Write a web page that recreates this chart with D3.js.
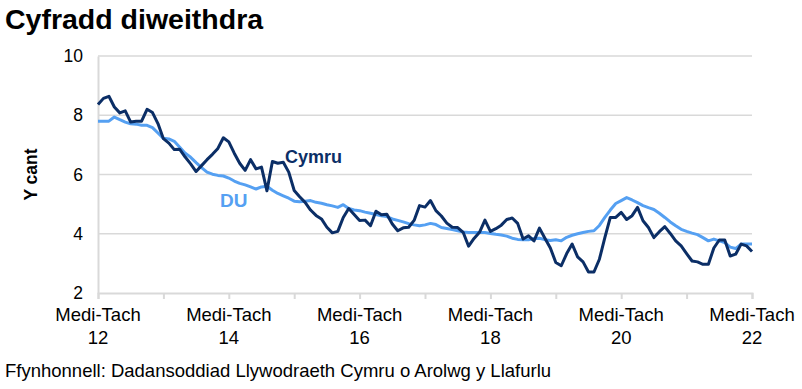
<!DOCTYPE html>
<html>
<head>
<meta charset="utf-8">
<script src="https://cdn.jsdelivr.net/npm/d3@7"></script>
<style>
  html, body { margin: 0; padding: 0; background: #fff; }
  svg { display: block; font-family: "Liberation Sans", Arial, sans-serif; }
</style>
</head>
<body>
<svg id="chart" width="802" height="389"></svg>
<script>
// Month index 0 = Medi-Tach 2012 ... 120 = Medi-Tach 2022
const cymru = [8.36,8.57,8.64,8.28,8.08,8.15,7.77,7.80,7.80,8.20,8.09,7.72,7.21,7.06,6.84,6.85,6.59,6.36,6.10,6.30,
  6.50,6.68,6.88,7.24,7.10,6.72,6.38,6.14,6.50,6.19,6.25,5.45,6.44,6.38,6.41,6.08,5.46,5.25,5.06,4.80,
  4.62,4.50,4.22,4.03,4.08,4.55,4.85,4.65,4.45,4.46,4.27,4.76,4.64,4.66,4.33,4.10,4.20,4.22,4.45,4.95,
  4.90,5.12,4.78,4.60,4.36,4.22,4.21,4.05,3.58,3.84,4.05,4.46,4.08,4.17,4.29,4.48,4.53,4.35,3.82,3.93,
  3.76,4.19,3.85,3.52,3.03,2.92,3.33,3.65,3.22,3.05,2.71,2.71,3.14,3.87,4.55,4.55,4.72,4.48,4.61,4.89,
  4.44,4.21,3.87,4.07,4.24,4.01,3.76,3.59,3.33,3.08,3.05,2.97,2.97,3.52,3.79,3.79,3.25,3.31,3.65,3.59,3.40];
const du = [7.80,7.80,7.80,7.94,7.85,7.77,7.71,7.70,7.66,7.66,7.58,7.40,7.22,7.20,7.12,6.92,6.72,6.58,6.40,6.23,
  6.08,6.01,5.97,5.95,5.88,5.78,5.70,5.65,5.58,5.51,5.58,5.60,5.47,5.36,5.28,5.20,5.10,5.08,5.10,5.12,
  5.06,5.03,4.98,4.94,4.89,4.98,4.85,4.80,4.78,4.73,4.69,4.65,4.61,4.58,4.50,4.45,4.40,4.34,4.30,4.27,
  4.30,4.35,4.31,4.21,4.18,4.14,4.10,4.06,4.04,4.04,4.04,4.04,4.01,3.98,3.96,3.92,3.85,3.81,3.80,3.80,
  3.84,3.85,3.80,3.77,3.80,3.76,3.88,3.95,4.00,4.04,4.08,4.10,4.28,4.55,4.80,5.02,5.12,5.22,5.14,5.05,
  4.95,4.88,4.82,4.69,4.55,4.40,4.27,4.15,4.08,4.02,3.97,3.87,3.76,3.82,3.76,3.70,3.55,3.50,3.65,3.65,3.65];
const xTickMonths = [0,12,24,36,48,60,72,84,96,108,120];
const xLabelMonths = [0,24,48,72,96,120];
const xLabels = ["Medi-Tach|12","Medi-Tach|14","Medi-Tach|16","Medi-Tach|18","Medi-Tach|20","Medi-Tach|22"];
const yTicks = [2,4,6,8,10];

const svg = d3.select("#chart");
const x = d3.scaleLinear().domain([0,120]).range([98,752]);
const y = d3.scaleLinear().domain([2,10]).range([293,56]);
const grid = "#d9d9d9";

// Title
svg.append("text").attr("x",5).attr("y",29).attr("font-size",28.5).attr("font-weight","bold")
  .attr("fill","#000").text("Cyfradd diweithdra");

// gridlines
svg.append("g").selectAll("line").data(yTicks.filter(d=>d>2)).join("line")
  .attr("x1",x(0)).attr("x2",x(120)).attr("y1",d=>y(d)).attr("y2",d=>y(d))
  .attr("stroke",grid).attr("stroke-width",1.5);

// y axis
const yAxis = svg.append("g").attr("transform",`translate(${x(0)},0)`)
  .call(d3.axisLeft(y).tickValues(yTicks).tickSize(0).tickPadding(15));
yAxis.select(".domain").attr("stroke",grid).attr("stroke-width",2);
yAxis.selectAll("text").attr("font-size",17.5).attr("fill","#000").attr("font-family","Liberation Sans, Arial, sans-serif");

// x axis
const xAxis = svg.append("g").attr("transform",`translate(0,${y(2)})`)
  .call(d3.axisBottom(x).tickValues(xTickMonths).tickSize(6).tickFormat(""));
xAxis.select(".domain").attr("stroke",grid).attr("stroke-width",2);
xAxis.selectAll(".tick line").attr("stroke",grid).attr("stroke-width",2);

const lab = svg.append("g").selectAll("text").data(xLabelMonths).join("text")
  .attr("x",d=>x(d)).attr("y",y(2)+28).attr("text-anchor","middle")
  .attr("font-size",18.5).attr("fill","#000");
lab.each(function(d,i){
  const parts = xLabels[i].split("|");
  const t = d3.select(this);
  t.append("tspan").attr("x",x(d)).attr("dy",0).text(parts[0]);
  t.append("tspan").attr("x",x(d)).attr("dy",23).text(parts[1]);
});

// y label
svg.append("text").attr("transform",`translate(37,${(y(2)+y(10))/2}) rotate(-90)`)
  .attr("text-anchor","middle").attr("font-size",17.5).attr("font-weight","bold").text("Y cant");

// lines
const line = d3.line().x((d,i)=>x(i)).y(d=>y(d));
svg.append("path").datum(du).attr("d",line).attr("fill","none")
  .attr("stroke","#55a0f2").attr("stroke-width",3).attr("stroke-linejoin","round");
svg.append("path").datum(cymru).attr("d",line).attr("fill","none")
  .attr("stroke","#0b2e66").attr("stroke-width",3).attr("stroke-linejoin","round");

// series labels
svg.append("text").attr("x",285).attr("y",163).attr("font-size",18).attr("font-weight","bold")
  .attr("fill","#0b2e66").text("Cymru");
svg.append("text").attr("x",220).attr("y",207).attr("font-size",19).attr("font-weight","bold")
  .attr("fill","#55a0f2").text("DU");

// source
svg.append("text").attr("x",5).attr("y",377).attr("font-size",18.5).attr("fill","#000")
  .text("Ffynhonnell: Dadansoddiad Llywodraeth Cymru o Arolwg y Llafurlu");
</script>
</body>
</html>
